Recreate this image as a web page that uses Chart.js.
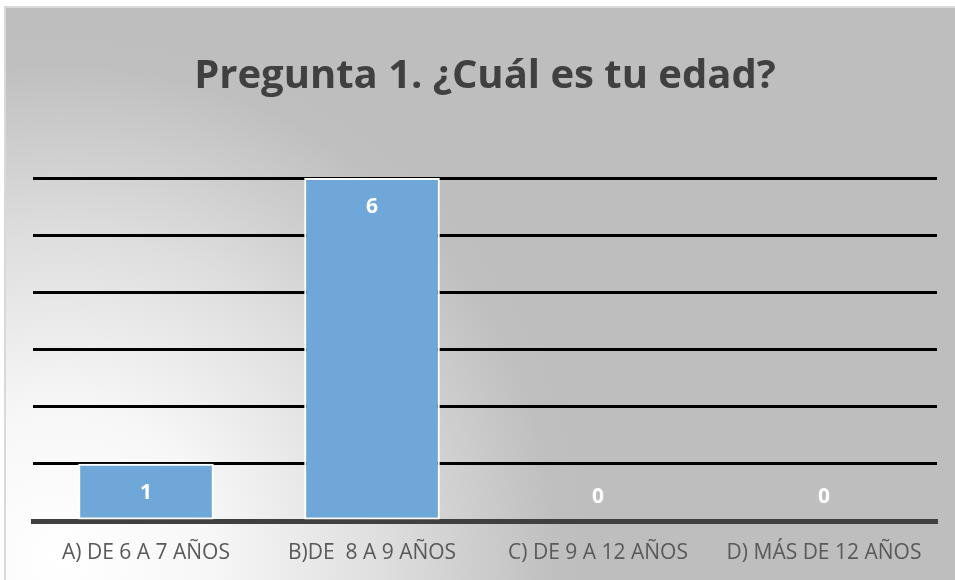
<!DOCTYPE html>
<html>
<head>
<meta charset="utf-8">
<script src="https://cdn.jsdelivr.net/npm/chart.js@4.4.1/dist/chart.umd.min.js"></script>
<style>
html,body{margin:0;padding:0;background:#fff;}
#wrap{width:955px;height:580px;position:relative;}
</style>
</head>
<body>
<div id="wrap"><canvas id="c" width="955" height="580"></canvas></div>
<script>
const categories = ["A) DE 6 A 7 AÑOS", "B)DE  8 A 9 AÑOS", "C) DE 9 A 12 AÑOS", "D) MÁS DE 12 AÑOS"];
const values = [1, 6, 0, 0];
const yMax = 6;
const titleText = "Pregunta 1. ¿Cuál es tu edad?";

const bgPlugin = {
  id: 'bg',
  beforeDraw(chart) {
    const ctx = chart.ctx;
    ctx.save();
    ctx.fillStyle = '#ffffff';
    ctx.fillRect(0, 0, chart.width, chart.height);
    const g = ctx.createRadialGradient(60, 560, 0, 60, 560, 540);
    g.addColorStop(0, '#ffffff');
    g.addColorStop(0.28, '#f7f7f7');
    g.addColorStop(0.6, '#dedede');
    g.addColorStop(0.92, '#bfbfbf');
    g.addColorStop(1, '#bebebe');
    ctx.fillStyle = g;
    ctx.fillRect(5, 7, chart.width - 5, chart.height - 7);
    ctx.strokeStyle = '#d9d9d9';
    ctx.lineWidth = 2;
    ctx.beginPath();
    ctx.moveTo(5, chart.height);
    ctx.lineTo(5, 7);
    ctx.lineTo(chart.width, 7);
    ctx.stroke();
    ctx.restore();
  }
};

const labelPlugin = {
  id: 'vlabels',
  afterDatasetsDraw(chart) {
    const ctx = chart.ctx;
    const meta = chart.getDatasetMeta(0);
    ctx.save();
    ctx.fillStyle = '#ffffff';
    ctx.font = 'bold 21px "Open Sans"';
    ctx.textAlign = 'center';
    ctx.textBaseline = 'middle';
    meta.data.forEach((bar, i) => {
      const v = chart.data.datasets[0].data[i];
      const y = v > 0 ? bar.y + 29 : bar.y - 24;
      ctx.fillText(String(v), bar.x, y);
    });
    ctx.restore();
  }
};

new Chart(document.getElementById('c'), {
  type: 'bar',
  data: {
    labels: categories,
    datasets: [{
      data: values,
      backgroundColor: '#70a7d9',
      borderColor: '#ffffff',
      borderWidth: 2,
      borderSkipped: false,
      categoryPercentage: 1,
      barPercentage: 0.6
    }]
  },
  options: {
    responsive: false,
    animation: false,
    devicePixelRatio: 1,
    layout: { padding: { left: 33, right: 18, top: 0, bottom: 0 } },
    plugins: {
      legend: { display: false },
      tooltip: { enabled: false },
      title: {
        display: true,
        text: titleText,
        color: '#404040',
        font: { family: '"Open Sans"', size: 40, weight: 'bold' },
        padding: { top: 53, bottom: 77 }
      }
    },
    scales: {
      x: {
        grid: { display: false, drawTicks: false },
        border: { display: true, color: '#404040', width: 5 },
        ticks: { color: '#595959', font: { family: '"Open Sans"', size: 21 }, padding: 19, maxRotation: 0 },
        afterFit(scale) { scale.height = 59; }
      },
      y: {
        min: 0, max: yMax,
        ticks: { display: false, stepSize: 1 },
        grid: { color: '#000000', lineWidth: 3, drawTicks: false },
        border: { display: false }
      }
    }
  },
  plugins: [bgPlugin, labelPlugin]
});
</script>
</body>
</html>
